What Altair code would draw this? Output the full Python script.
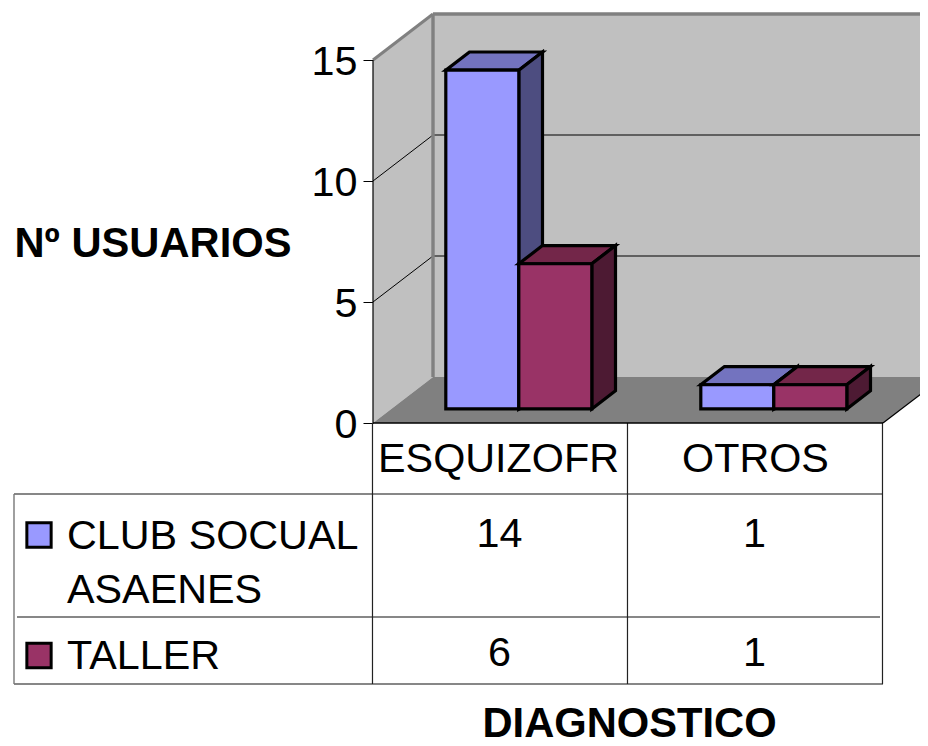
import altair as alt
import pandas as pd

# --- chart values -----------------------------------------------------------
categories = ["ESQUIZOFR", "OTROS"]
series_names = ["CLUB SOCUAL ASAENES", "TALLER"]
club_values = [14, 1]
taller_values = [6, 1]
y_ticks = [0, 5, 10, 15]
front_colors = ["#9999ff", "#993366"]
top_colors = ["#7373bf", "#732649"]
side_colors = ["#4d4d80", "#4d1a33"]

# --- frame: one category = CAT_W px, one unit = UNIT px --------------------------
W, H = 912, 738
X0, Y0, CAT_W, UNIT = 373, 423, 255, 24.2
DX, DY = 60, 46                # depth of the 3D box, px
D0, D1 = 0.305, 0.70           # bars occupy this part of the depth
BAR_W, GAP = 73 / 255, 54.5 / 255
FS, FSB = 41.3, 41.7
BAR_SW = 3.2

def ux(px): return (px - X0) / CAT_W
def uy(py): return (Y0 - py) / UNIT

x_scale = alt.Scale(domain=[ux(8), ux(8 + W)], range=[0, W], nice=False, zero=False)
y_scale = alt.Scale(domain=[uy(8 + H), uy(8)], range=[H, 0], nice=False, zero=False)
X = alt.X("x:Q", scale=x_scale, axis=None)
Y = alt.Y("y:Q", scale=y_scale, axis=None)

def rect(x0, x1, y0, y1, fill, stroke=None, sw=0, clip=False):
    kw = dict(fill=fill, strokeWidth=sw, clip=clip)
    if stroke: kw.update(stroke=stroke, strokeJoin="miter")
    return alt.Chart(pd.DataFrame({"x": [x0], "x2": [x1], "y": [y0], "y2": [y1]})).mark_rect(**kw).encode(
        x=X, x2="x2:Q", y=Y, y2="y2:Q")

def vband(x0, x1, top0, bot0, top1, bot1, fill, stroke=None, sw=0):
    kw = dict(fill=fill, strokeWidth=sw, orient="vertical", opacity=1)
    if stroke: kw.update(stroke=stroke, strokeJoin="miter")
    return alt.Chart(pd.DataFrame({"x": [x0, x1], "y": [top0, top1], "y2": [bot0, bot1]})).mark_area(**kw).encode(
        x=X, y=Y, y2="y2:Q")

def hband(y0, y1, l0, r0, l1, r1, fill, stroke=None, sw=0, clip=False):
    kw = dict(fill=fill, strokeWidth=sw, orient="horizontal", opacity=1, clip=clip)
    if stroke: kw.update(stroke=stroke, strokeJoin="miter")
    return alt.Chart(pd.DataFrame({"y": [y0, y1], "x": [l0, l1], "x2": [r0, r1]})).mark_area(**kw).encode(
        x=X, x2="x2:Q", y=Y)

def seg(x0, y0, x1, y1, color="#000000", sw=1.0, clip=False):
    return alt.Chart(pd.DataFrame({"x": [x0], "y": [y0], "x2": [x1], "y2": [y1]})).mark_rule(
        color=color, strokeWidth=sw, clip=clip).encode(x=X, x2="x2:Q", y=Y, y2="y2:Q")

def label(text, px, py, size=FS, bold=False, align="center"):
    return alt.Chart(pd.DataFrame({"x": [ux(px)], "y": [uy(py + 2)], "t": [text]})).mark_text(
        font="Liberation Sans", fontSize=size, fontWeight="bold" if bold else "normal",
        align=align, baseline="middle", color="#000000").encode(x=X, y=Y, text="t:N")

ddx, ddy = DX / CAT_W, DY / UNIT
layers = []

# walls and floor; the first layer carries the real value axis
top_v = 15
axis_layer = alt.Chart(pd.DataFrame({"x": [0, ddx], "y": [top_v, top_v + ddy], "y2": [0, ddy]})).mark_area(
    fill="#c0c0c0", orient="vertical", opacity=1).encode(
    x=X,
    y=alt.Y("y:Q", scale=y_scale, axis=alt.Axis(
        values=y_ticks, orient="left", offset=-(X0 - 8), domain=False, grid=False, title=None,
        labelFont="Liberation Sans", labelFontSize=FS, labelColor="#000000", labelPadding=6,
        labelOffset=2, tickColor="#000000", tickSize=10, tickWidth=1)),
    y2="y2:Q")
layers.append(axis_layer)
layers.append(rect(ddx, ux(8 + W), ddy, top_v + ddy, "#c0c0c0", clip=True))
layers.append(hband(0, ddy, 0, 2, ddx, 2 + ddx, "#808080", clip=True))

# gridlines
for t in y_ticks[1:-1]:
    layers.append(seg(0, t, ddx, t + ddy))
    layers.append(seg(ddx, t + ddy, ux(8 + W), t + ddy, clip=True))

# wall edges
layers.append(seg(0, top_v, ddx, top_v + ddy, "#808080", 3))
layers.append(seg(ddx, ddy, ddx, top_v + ddy, "#808080", 3.4))
layers.append(seg(ddx, top_v + ddy, ux(8 + W), top_v + ddy, "#808080", 3.4, clip=True))
layers.append(seg(0, 0, 0, top_v, "#000000", 1.2))
layers.append(seg(2, 0, 2 + ddx, ddy, "#000000", 1.2, clip=True))

# 3D bars
for c in range(len(categories)):
    for s, vals in enumerate([club_values, taller_values]):
        v = vals[c]
        x0 = c + GAP + s * BAR_W + D0 * ddx
        x1 = x0 + BAR_W
        b = D0 * ddy
        d = (D1 - D0)
        sx, sy = d * ddx, d * ddy
        layers.append(hband(b + v, b + v + sy, x0, x1, x0 + sx, x1 + sx, top_colors[s], "#000000", BAR_SW))
        layers.append(vband(x1, x1 + sx, b + v, b, b + v + sy, b + sy, side_colors[s], "#000000", BAR_SW))
        layers.append(rect(x0, x1, b, b + v, front_colors[s], "#000000", BAR_SW))

# table lines
left, xa, xb, xc = ux(14), 0, 1, 2
for py, x0, x1 in [(494, left, xc), (617, ux(17), ux(880)), (684, left, xc)]:
    layers.append(seg(x0, uy(py), x1, uy(py), "#111111", 1.2))
layers.append(seg(left, uy(494), left, uy(684), "#777777", 1.4))
for xv in [xa - 0.002, xb - 0.002, xc - 0.002]:
    layers.append(seg(xv, 0, xv, uy(684), "#222222", 1.2))
layers.append(seg(0, 0, 2, 0, "#000000", 1.6))

# table contents
for i, cat in enumerate(categories):
    cx = X0 + (i + 0.5) * CAT_W - (2 if i == 0 else 0)
    layers.append(label(cat, cx, 458))
    layers.append(label(str(club_values[i]), X0 + (i + 0.5) * CAT_W - 1, 533))
    layers.append(label(str(taller_values[i]), X0 + (i + 0.5) * CAT_W - 1, 652))

layers.append(label("CLUB SOCUAL", 67, 535, align="left"))
layers.append(label("ASAENES", 67, 589, align="left"))
layers.append(label("TALLER", 67, 655, align="left"))

for s, py in enumerate([535, 655.5]):
    layers.append(alt.Chart(pd.DataFrame({"x": [ux(39)], "y": [uy(py)]})).mark_square(
        size=590, fill=front_colors[s], stroke="#000000", strokeWidth=3, opacity=1).encode(x=X, y=Y))

layers.append(label("Nº USUARIOS", 153, 242, size=FSB, bold=True))
layers.append(label("DIAGNOSTICO", 629.5, 722, size=FSB, bold=True))

chart = alt.layer(*layers).resolve_axis(y="independent").properties(
    width=W, height=H, padding=0, autosize=alt.AutoSizeParams(type="none"), background="#ffffff"
).configure_view(stroke=None)

chart.save("out.html", embed_options={"renderer": "svg", "actions": False})
